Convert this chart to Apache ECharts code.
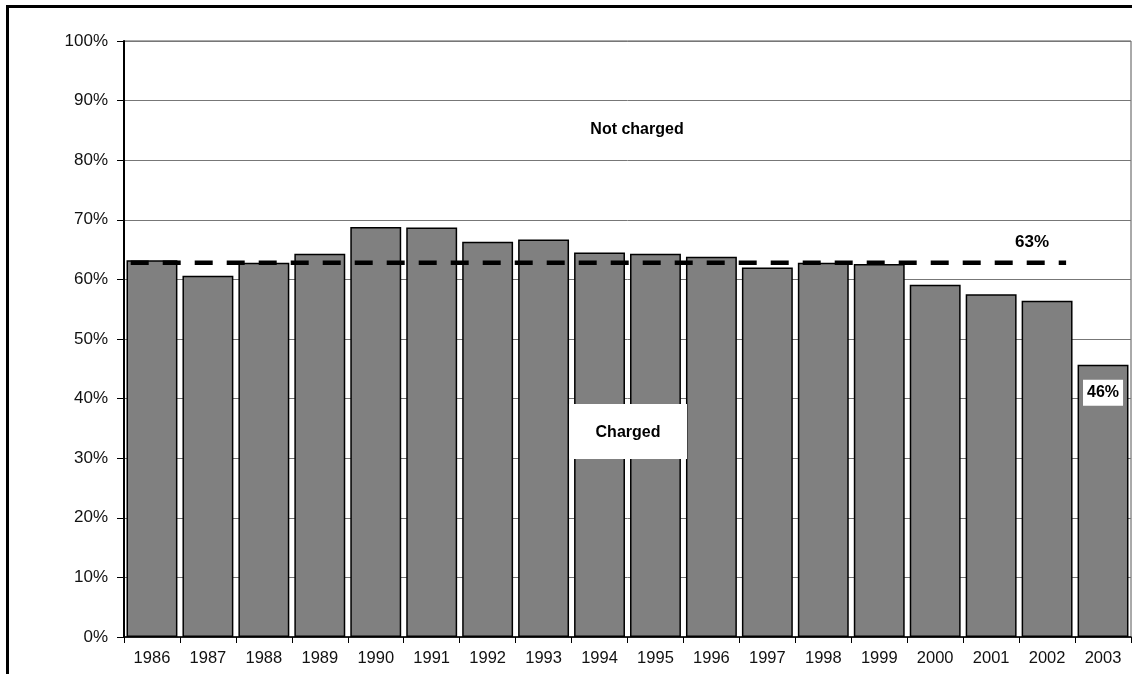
<!DOCTYPE html>
<html>
<head>
<meta charset="utf-8">
<script src="https://cdn.jsdelivr.net/npm/echarts@6/dist/echarts.min.js"></script>
<style>
html,body{margin:0;padding:0;background:#fff;}
#chart{width:1132px;height:674px;}
</style>
</head>
<body>
<div id="chart"></div>
<script>
const years = ['1986','1987','1988','1989','1990','1991','1992','1993','1994','1995','1996','1997','1998','1999','2000','2001','2002','2003'];
const chargedPct = [63.2, 60.6, 62.8, 64.3, 68.8, 68.7, 66.3, 66.7, 64.5, 64.3, 63.8, 62.0, 62.8, 62.6, 59.1, 57.5, 56.4, 45.7];
const averagePct = 62.8;
const averageLabel = '63%';
const lastLabel = '46%';
const yTicks = [0, 10, 20, 30, 40, 50, 60, 70, 80, 90, 100];

const chart = echarts.init(document.getElementById('chart'), null, {renderer: 'canvas'});
const font = 'Liberation Sans, Arial, sans-serif';

const barData = chargedPct.map((v, i) => {
  if (i === chargedPct.length - 1) {
    return {
      value: v,
      label: {
        show: true, position: 'insideTop', distance: 15,
        formatter: lastLabel, fontFamily: font, fontWeight: 'bold', fontSize: 16, color: '#000',
        backgroundColor: '#fff', padding: [5, 4, 5, 4]
      }
    };
  }
  return v;
});

chart.setOption({
  animation: false,
  backgroundColor: '#fff',
  grid: {left: 124, right: 1, top: 41, bottom: 37, show: true, borderColor: '#555', borderWidth: 1},
  xAxis: [{
    type: 'category', data: years, boundaryGap: true,
    axisLine: {lineStyle: {color: '#000', width: 1.5}},
    axisTick: {show: true, length: 6, lineStyle: {color: '#000'}},
    axisLabel: {fontFamily: font, fontSize: 16.5, color: '#111', margin: 13},
    splitLine: {show: false}
  }, {
    type: 'value', min: 0, max: years.length, show: false
  }],
  yAxis: {
    type: 'value', min: 0, max: 100, interval: 10,
    axisLine: {show: true, lineStyle: {color: '#000', width: 2}},
    axisTick: {show: true, length: 7, lineStyle: {color: '#000'}},
    axisLabel: {fontFamily: font, fontSize: 17, color: '#111', margin: 16,
      formatter: v => yTicks.includes(v) ? v + '%' : ''},
    splitLine: {show: true, lineStyle: {color: '#777', width: 1}}
  },
  series: [{
    type: 'bar', data: barData, barCategoryGap: '9%',
    itemStyle: {color: '#808080', borderColor: '#000', borderWidth: 1.5},
    z: 2
  }, {
    type: 'line', xAxisIndex: 1, symbol: 'none',
    data: [[0.12, averagePct], [16.84, averagePct]],
    lineStyle: {color: '#000', width: 4.5, type: [18, 14]},
    label: {show: false},
    endLabel: {show: true, formatter: averageLabel, fontFamily: font, fontWeight: 'bold', fontSize: 17,
      color: '#000', offset: [-59, -20]},
    z: 3
  }],
  graphic: {elements: [
    {type: 'rect', left: 5, top: 4, shape: {width: 1200, height: 700},
      style: {fill: 'none', stroke: '#000', lineWidth: 3}, silent: true, z: 100},
    {type: 'text', x: 637, y: 130, z: 100, style: {text: 'Not charged', font: 'bold 16px ' + font,
      fill: '#000', textAlign: 'center', textVerticalAlign: 'middle'}},
    {type: 'rect', z: 100, shape: {x: 569, y: 404, width: 118, height: 55}, style: {fill: '#fff'}},
    {type: 'text', x: 628, y: 433, z: 101, style: {text: 'Charged', font: 'bold 16px ' + font, fill: '#000',
      textAlign: 'center', textVerticalAlign: 'middle'}}
  ]}
});
</script>
</body>
</html>
